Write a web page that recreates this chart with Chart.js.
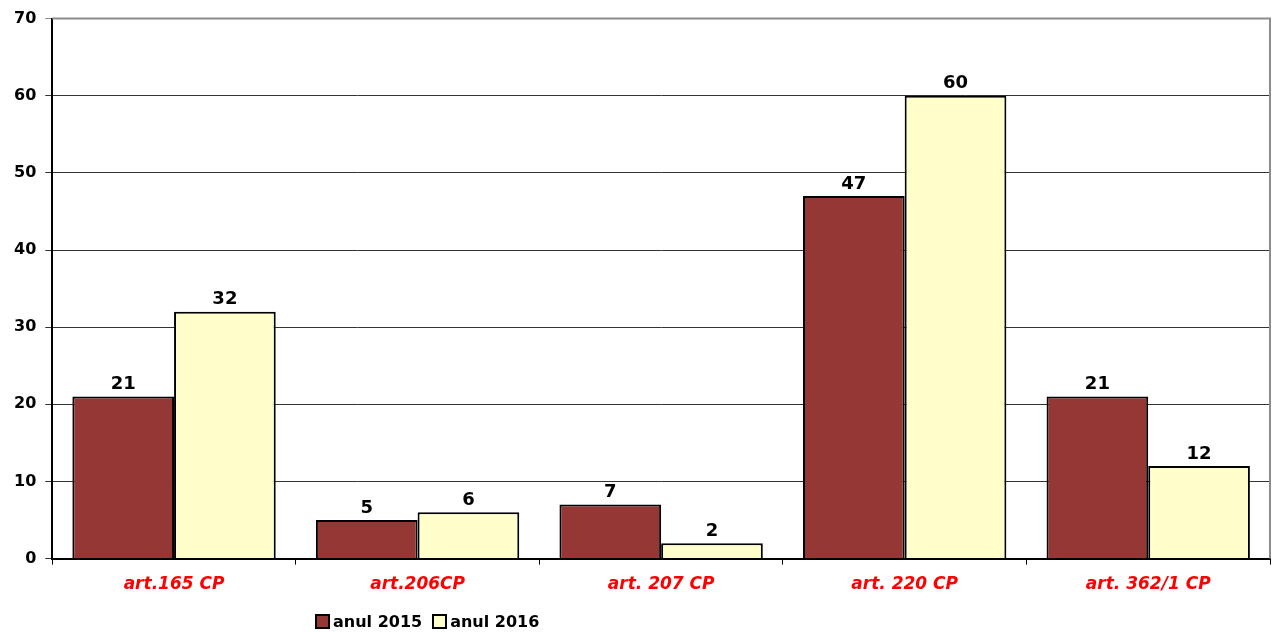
<!DOCTYPE html>
<html>
<head>
<meta charset="utf-8">
<script src="https://cdn.jsdelivr.net/npm/chart.js@4/dist/chart.umd.min.js"></script>
<style>
  html, body { margin: 0; padding: 0; background: #fff; }
  #wrap { position: relative; width: 1275px; height: 632px; }
  #legend { position: absolute; left: 315px; top: 612px; font: bold 16px "DejaVu Sans", sans-serif; display: flex; gap: 10px; }
  #legend span.item { display: flex; align-items: center; }
  #legend span.box { width: 11px; height: 11px; border: 2px solid #000; margin-right: 3px; display: inline-block; }
</style>
</head>
<body>
<div id="wrap">
  <canvas id="chart" width="1275" height="632"></canvas>
  <div id="legend"></div>
</div>
<script>
// values
const categories = ['art.165 CP', 'art.206CP', 'art. 207 CP', 'art. 220 CP', 'art. 362/1 CP'];
const year2015 = [21, 5, 7, 47, 21];
const year2016 = [32, 6, 2, 60, 12];
const seriesNames = ['anul 2015', 'anul 2016'];
const seriesColors = ['#953735', '#FFFFCC'];

const FONT = '"DejaVu Sans", sans-serif';

// draw value labels above each bar
const valueLabels = {
  id: 'valueLabels',
  afterDatasetsDraw(chart) {
    const ctx = chart.ctx;
    ctx.save();
    ctx.font = 'bold 18px ' + FONT;
    ctx.fillStyle = '#000';
    ctx.textAlign = 'center';
    ctx.textBaseline = 'bottom';
    chart.data.datasets.forEach((ds, di) => {
      chart.getDatasetMeta(di).data.forEach((bar, i) => {
        ctx.fillText(ds.data[i], bar.x, bar.y - 3);
      });
    });
    ctx.restore();
  }
};

// gray frame on top and right of the plot area
const frame = {
  id: 'frame',
  beforeDatasetsDraw(chart) {
    const a = chart.chartArea, ctx = chart.ctx;
    ctx.save();
    ctx.strokeStyle = '#8c8c8c';
    ctx.lineWidth = 2;
    ctx.beginPath();
    ctx.moveTo(a.left, a.top);
    ctx.lineTo(a.right, a.top);
    ctx.lineTo(a.right, a.bottom);
    ctx.stroke();
    ctx.restore();
  }
};

const datasets = [year2015, year2016].map((vals, i) => ({
  label: seriesNames[i],
  data: vals,
  backgroundColor: seriesColors[i],
  borderColor: '#000',
  borderWidth: 2,
  categoryPercentage: 0.835,
  barPercentage: 1.0
}));

new Chart(document.getElementById('chart'), {
  type: 'bar',
  data: { labels: categories, datasets },
  plugins: [frame, valueLabels],
  options: {
    responsive: false,
    animation: false,
    layout: { padding: { left: 5, right: 5, top: 9, bottom: 27 } },
    plugins: { legend: { display: false }, tooltip: { enabled: false } },
    scales: {
      x: {
        grid: { offset: true, drawOnChartArea: false, drawTicks: true, tickLength: 6, color: '#000' },
        border: { color: '#000', width: 2 },
        ticks: { color: '#ff0000', font: { family: FONT, size: 17, weight: 'bold', style: 'italic' }, padding: 10 }
      },
      y: {
        min: 0, max: 70,
        ticks: { stepSize: 10, color: '#000', font: { family: FONT, size: 16, weight: 'bold' }, padding: 9 },
        grid: { color: (c) => c.tick && c.tick.value === 70 ? '#8c8c8c' : '#333', lineWidth: 1, tickLength: 7 },
        border: { color: '#000', width: 2 }
      }
    }
  }
});

// html legend
const legend = document.getElementById('legend');
seriesNames.forEach((name, i) => {
  const item = document.createElement('span');
  item.className = 'item';
  const box = document.createElement('span');
  box.className = 'box';
  box.style.background = seriesColors[i];
  item.appendChild(box);
  item.appendChild(document.createTextNode(name));
  legend.appendChild(item);
});
</script>
</body>
</html>
